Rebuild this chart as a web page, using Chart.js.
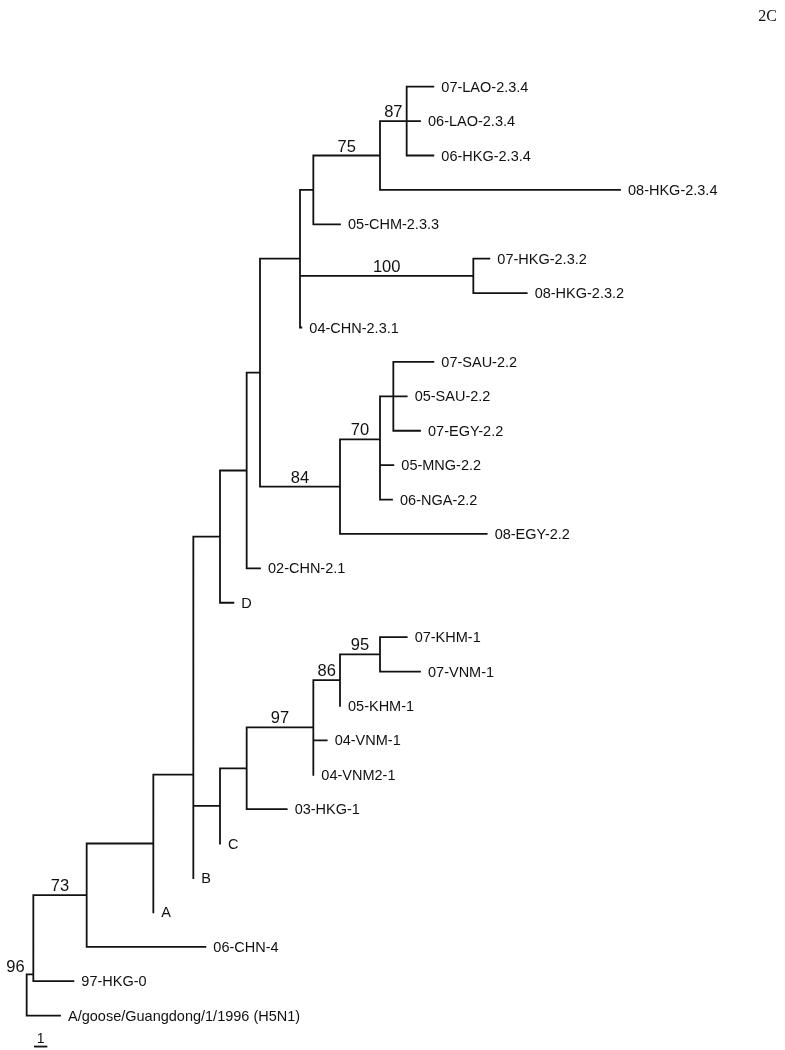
<!DOCTYPE html>
<html>
<head>
<meta charset="utf-8">
<title>H5N1 HA tree - 2C</title>
<script src="https://cdn.jsdelivr.net/npm/chart.js@4.4.1/dist/chart.umd.min.js"></script>
<style>
    html, body { margin: 0; padding: 0; background: #ffffff; }
    #wrap { position: relative; width: 785px; height: 1050px; }
</style>
</head>
<body>
<div id="wrap"><canvas id="tree"></canvas></div>
<script>
// Tree nodes, depth-first. A parent always comes before its children,
// and children are drawn top to bottom in the order they appear here.
const nodeNames = [
    'root', 'n96', 'n73', 'nA', 'nB', 'nBx', 'nD', 'n21', 'n23', 'n233',
    'n2334', 'n75', 'n87', 'lao07', 'lao06', 'hkg06', 'hkg08a', 'chm05',
    'n100', 'hkg07b', 'hkg08b', 'chn04', 'n84', 'n70', 'n22a', 'sau07',
    'sau05', 'egy07', 'n22b', 'mng05', 'nga06', 'egy08', 'chn02', 'D',
    'nC', 'n1', 'n97', 'n86', 'n95', 'khm07', 'vnm07', 'khm05', 'vnm04',
    'vnm2', 'hkg03', 'C', 'B', 'A', 'chn4', 'hkg97', 'goose'
];
const nodeParents = [
    null, 'root', 'n96', 'n73', 'nA', 'nB', 'nBx', 'nD', 'n21', 'n23',
    'n233', 'n2334', 'n75', 'n87', 'n87', 'n87', 'n75', 'n2334',
    'n233', 'n100', 'n100', 'n233', 'n23', 'n84', 'n70', 'n22a',
    'n22a', 'n22a', 'n70', 'n22b', 'n22b', 'n84', 'n21', 'nD',
    'nBx', 'nC', 'n1', 'n97', 'n86', 'n95', 'n95', 'n86', 'n97',
    'n97', 'n1', 'nC', 'nB', 'nA', 'n73', 'n96', 'root'
];
// branch length to parent (scale bar = 1)
const branchLengths = [
    0, 0.5, 4.0, 5.0, 3.0, 0, 2.0, 2.0, 1.0, 3.0,
    1.0, 5.0, 2.0, 2.0, 1.0, 2.0, 18.0, 2.0,
    13.0, 1.2, 4.0, 0.1, 6.0, 3.0, 1.0, 3.0,
    1.0, 2.0, 0, 1.0, 0.9, 11.0, 1.0, 1.0,
    2.0, 2.0, 5.0, 2.0, 3.0, 2.0, 3.0, 0, 1.0,
    0, 3.0, 0, 0, 0, 8.9, 3.0, 2.5
];
const nodeLabels = [
    '', '', '', '', '', '', '', '', '', '',
    '', '', '', '07-LAO-2.3.4', '06-LAO-2.3.4', '06-HKG-2.3.4', '08-HKG-2.3.4', '05-CHM-2.3.3',
    '', '07-HKG-2.3.2', '08-HKG-2.3.2', '04-CHN-2.3.1', '', '', '', '07-SAU-2.2',
    '05-SAU-2.2', '07-EGY-2.2', '', '05-MNG-2.2', '06-NGA-2.2', '08-EGY-2.2', '02-CHN-2.1', 'D',
    '', '', '', '', '', '07-KHM-1', '07-VNM-1', '05-KHM-1', '04-VNM-1',
    '04-VNM2-1', '03-HKG-1', 'C', 'B', 'A', '06-CHN-4', '97-HKG-0', 'A/goose/Guangdong/1/1996 (H5N1)'
];
const supportNodes = ['n96', 'n73', 'n75', 'n87', 'n100', 'n84', 'n70', 'n97', 'n86', 'n95'];
const supportValues = [96, 73, 75, 87, 100, 84, 70, 97, 86, 95];

// the 96 node is joined to the root lower than its midpoint in the figure
const rowFixNodes = ['n96'];
const rowFixValues = [25.8];

const scaleBarStart = 0.55;
const scaleBarLength = 1;
const scaleBarRow = 27.9;
const panelTag = '2C';

// ---- build geometry from the tree ----
const idx = {};
nodeNames.forEach((n, i) => { idx[n] = i; });
const children = nodeNames.map(() => []);
nodeParents.forEach((p, i) => { if (p) children[idx[p]].push(i); });

const depth = [];
nodeNames.forEach((n, i) => {
    const p = nodeParents[i];
    depth[i] = p ? depth[idx[p]] + branchLengths[i] : 0;
});

const row = [];
let leafCount = 0;
function placeRow(i) {
    const kids = children[i];
    if (!kids.length) {
        row[i] = leafCount++;
        return;
    }
    kids.forEach(placeRow);
    const fix = rowFixNodes.indexOf(nodeNames[i]);
    row[i] = fix >= 0 ? rowFixValues[fix] : (row[kids[0]] + row[kids[kids.length - 1]]) / 2;
}
placeRow(0);

// every branch as a little run of points, broken by a gap
const branchPoints = [];
nodeNames.forEach((n, i) => {
    const p = nodeParents[i];
    if (p) {
        branchPoints.push({ x: depth[idx[p]], y: row[i] }, { x: depth[i], y: row[i] }, { x: depth[i], y: null });
    }
    const kids = children[i];
    if (kids.length) {
        branchPoints.push({ x: depth[i], y: row[kids[0]] }, { x: depth[i], y: row[kids[kids.length - 1]] }, { x: depth[i], y: null });
    }
});

const scaleBarPoints = [
    { x: scaleBarStart, y: scaleBarRow },
    { x: scaleBarStart + scaleBarLength, y: scaleBarRow }
];

const SANS = '"Liberation Sans", Arial, Helvetica, sans-serif';

// names, bootstrap values, scale label and panel tag
const treeText = {
    id: 'treeText',
    afterDatasetsDraw(chart) {
        const { ctx, scales: { x, y } } = chart;
        ctx.save();
        ctx.fillStyle = '#111111';

        ctx.font = '14.5px ' + SANS;
        ctx.textAlign = 'left';
        ctx.textBaseline = 'middle';
        nodeNames.forEach((n, i) => {
            if (!nodeLabels[i]) return;
            ctx.fillText(nodeLabels[i], x.getPixelForValue(depth[i]) + 8, y.getPixelForValue(row[i]) + 1);
        });

        ctx.font = '16.5px ' + SANS;
        ctx.textBaseline = 'alphabetic';
        supportNodes.forEach((n, k) => {
            const i = idx[n];
            const x0 = x.getPixelForValue(depth[idx[nodeParents[i]]]);
            const x1 = x.getPixelForValue(depth[i]);
            const yy = y.getPixelForValue(row[i]);
            const txt = String(supportValues[k]);
            const w = ctx.measureText(txt).width;
            if (w > x1 - x0) {
                // branch too short, put the value to the left of it
                ctx.textAlign = 'right';
                ctx.fillText(txt, x0 - 2, yy - 2);
            } else {
                ctx.textAlign = 'center';
                ctx.fillText(txt, (x0 + x1) / 2, yy - 4);
            }
        });

        ctx.font = '14px ' + SANS;
        ctx.textAlign = 'center';
        ctx.fillText(String(scaleBarLength),
            x.getPixelForValue(scaleBarStart + scaleBarLength / 2),
            y.getPixelForValue(scaleBarRow) - 4);

        ctx.font = '16px "Liberation Serif", "Times New Roman", serif';
        ctx.textAlign = 'right';
        ctx.fillText(panelTag, chart.width - 8, 21);
        ctx.restore();
    }
};

new Chart(document.getElementById('tree'), {
    type: 'scatter',
    data: {
        datasets: [
            {
                data: branchPoints,
                showLine: true,
                spanGaps: false,
                borderColor: '#111111',
                borderWidth: 1.8,
                borderCapStyle: 'square',
                pointRadius: 0,
                pointHoverRadius: 0
            },
            {
                data: scaleBarPoints,
                showLine: true,
                borderColor: '#111111',
                borderWidth: 1.8,
                pointRadius: 0,
                pointHoverRadius: 0
            }
        ]
    },
    options: {
        responsive: true,
        maintainAspectRatio: false,
        animation: false,
        devicePixelRatio: 1,
        layout: { padding: 0 },
        scales: {
            x: { type: 'linear', min: -2, max: 56.875, display: false },
            y: { type: 'linear', min: -2.52, max: 28.0, reverse: true, display: false }
        },
        plugins: {
            legend: { display: false },
            tooltip: { enabled: false }
        },
        events: []
    },
    plugins: [treeText]
});
</script>
</body>
</html>
